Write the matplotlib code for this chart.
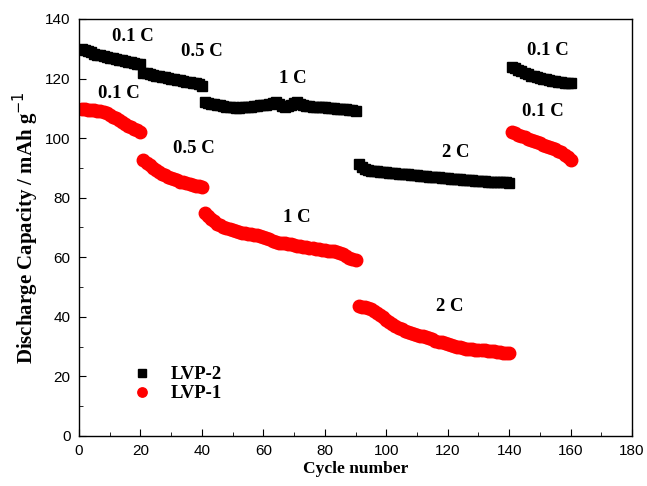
import numpy as np
import matplotlib
matplotlib.use("Agg")
import matplotlib.pyplot as plt
from matplotlib.ticker import MultipleLocator

# Discharge capacity (mAh/g) per cycle
lvp2_capacity = [
    # 0.1 C, cycles 1-20
    130.0, 129.6, 129.2, 128.8, 128.4, 128.0, 127.8, 127.5, 127.3, 127.0,
    126.8, 126.6, 126.3, 126.1, 125.9, 125.7, 125.5, 125.2, 125.0, 124.8,
    # 0.5 C, cycles 21-40
    122.0, 121.8, 121.5, 121.3, 121.0, 120.8, 120.6, 120.4, 120.2, 120.0,
    119.8, 119.6, 119.4, 119.2, 119.0, 118.8, 118.6, 118.4, 118.0, 117.4,
    # 1 C, cycles 41-90
    112.2, 111.8, 111.6, 111.4, 111.2, 111.0, 110.8, 110.6, 110.4, 110.3,
    110.2, 110.2, 110.3, 110.4, 110.5, 110.6, 110.8, 110.9, 111.0, 111.0,
    111.1, 111.3, 111.8, 112.0, 111.4, 110.8, 110.6, 110.8, 111.2, 111.9,
    112.2, 111.5, 111.0, 110.8, 110.7, 110.6, 110.6, 110.5, 110.4, 110.3,
    110.2, 110.1, 110.0, 109.9, 109.8, 109.7, 109.6, 109.5, 109.3, 109.0,
    # 2 C, cycles 91-140
    91.2, 90.4, 89.6, 89.2, 89.0, 88.9, 88.8, 88.7, 88.6, 88.5,
    88.4, 88.3, 88.2, 88.1, 88.0, 87.9, 87.8, 87.7, 87.6, 87.5,
    87.4, 87.3, 87.2, 87.1, 87.0, 86.9, 86.8, 86.7, 86.6, 86.5,
    86.4, 86.3, 86.2, 86.1, 86.0, 85.9, 85.9, 85.8, 85.7, 85.6,
    85.6, 85.5, 85.4, 85.4, 85.3, 85.2, 85.2, 85.1, 85.1, 85.0,
    # 0.1 C, cycles 141-160
    124.0, 123.6, 123.0, 122.4, 121.9, 121.4, 121.0, 120.7, 120.4, 120.1,
    119.9, 119.7, 119.5, 119.3, 119.1, 118.9, 118.7, 118.6, 118.5, 118.4,
]

lvp1_capacity = [
    # 0.1 C
    109.6, 109.6, 109.5, 109.4, 109.3, 109.2, 109.0, 108.7, 108.3, 107.8,
    107.2, 106.6, 106.0, 105.3, 104.6, 104.0, 103.6, 103.2, 102.6, 102.0,
    # 0.5 C
    92.6, 91.6, 90.8, 90.0, 89.3, 88.6, 88.0, 87.5, 87.0, 86.6,
    86.2, 85.8, 85.4, 85.1, 84.8, 84.5, 84.2, 84.0, 83.8, 83.6,
    # 1 C
    75.0, 73.8, 72.8, 72.0, 71.3, 70.7, 70.2, 69.8, 69.4, 69.0,
    68.7, 68.5, 68.3, 68.1, 67.9, 67.7, 67.5, 67.3, 67.1, 66.9,
    66.6, 66.2, 65.6, 65.0, 64.8, 64.9, 64.7, 64.5, 64.3, 64.1,
    63.9, 63.7, 63.5, 63.3, 63.1, 63.0, 62.8, 62.6, 62.5, 62.3,
    62.2, 62.1, 62.0, 61.8, 61.5, 61.0, 60.4, 59.8, 59.3, 59.0,
    # 2 C
    43.6, 43.4, 43.2, 42.9, 42.5, 42.0, 41.4, 40.6, 39.8, 39.0,
    38.3, 37.6, 37.0, 36.4, 35.9, 35.4, 35.0, 34.6, 34.2, 33.9,
    33.6, 33.4, 33.1, 32.8, 32.4, 32.0, 31.7, 31.4, 31.1, 30.8,
    30.5, 30.2, 29.9, 29.7, 29.5, 29.3, 29.2, 29.1, 29.0, 28.9,
    28.8, 28.7, 28.6, 28.5, 28.4, 28.2, 28.1, 28.0, 27.9, 27.8,
    # 0.1 C
    102.0, 101.6, 101.2, 100.7, 100.2, 99.8, 99.4, 99.0, 98.6, 98.2,
    97.8, 97.4, 97.0, 96.6, 96.2, 95.8, 95.2, 94.4, 93.5, 92.6,
]

cycles = np.arange(1, len(lvp2_capacity) + 1)

# rate labels: (text, cycle, capacity)
rate_labels = [
    ("0.1 C", 17.5, 134), ("0.5 C", 40, 129), ("1 C", 69.5, 120),
    ("0.1 C", 13, 115), ("0.5 C", 37.5, 96.5), ("1 C", 71, 73.5),
    ("2 C", 122.5, 95), ("2 C", 120.5, 43.3),
    ("0.1 C", 152.5, 129.5), ("0.1 C", 151, 108.8),
]

serif = "Liberation Serif"
sans = "Liberation Sans"

fig = plt.figure(figsize=(6.47, 4.86), dpi=100)
ax = fig.add_axes([0.122, 0.103, 0.855, 0.858])

ax.plot(cycles, lvp2_capacity, "s", color="black", markersize=7.5, label="LVP-2")
ax.plot(cycles, lvp1_capacity, "o", color="red", markersize=9, label="LVP-1")

for txt, cx, cy in rate_labels:
    ax.text(cx, cy, txt, ha="center", va="center", fontsize=13.5,
            fontweight="bold", family=serif)

ax.set_xlim(0, 180)
ax.set_ylim(0, 140)
ax.xaxis.set_major_locator(MultipleLocator(20))
ax.xaxis.set_minor_locator(MultipleLocator(10))
ax.yaxis.set_major_locator(MultipleLocator(20))
ax.yaxis.set_minor_locator(MultipleLocator(10))
ax.tick_params(which="both", direction="in", top=False, right=False)
ax.tick_params(which="major", length=5, labelsize=11, pad=6)
ax.tick_params(which="minor", length=3)
for lab in ax.get_xticklabels() + ax.get_yticklabels():
    lab.set_family(sans)
for sp in ax.spines.values():
    sp.set_linewidth(1.0)

ax.set_xlabel("Cycle number", fontsize=12.5, fontweight="bold", family=serif, labelpad=2)
ax.set_ylabel("Discharge Capacity / mAh g$^{-1}$", fontsize=15, fontweight="bold",
              family=serif, labelpad=3)

ax.legend(loc="lower left", bbox_to_anchor=(0.05, 0.04), frameon=False,
          prop={"family": serif, "weight": "bold", "size": 13.5},
          handletextpad=0.5, labelspacing=0.1, markerscale=0.75)

fig.savefig("out.png", dpi=100)
